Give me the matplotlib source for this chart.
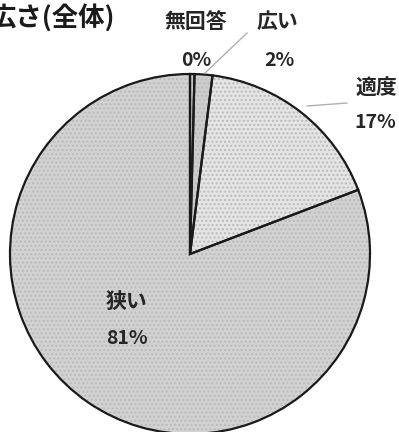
import matplotlib.pyplot as plt

plt.rcParams['font.family'] = ['Noto Sans CJK JP', 'DejaVu Sans']

# 回答の割合(%)
labels = ['無回答', '広い', '適度', '狭い']
values = [0.4, 1.6, 17.2, 80.8]
colors = ['#c8c8c8', '#cdcdcd', '#e4e4e4', '#d2d2d2']

# ラベル位置(画像座標, px)
label_pos = [(196, 21), (277, 21), (376, 88), (127, 301)]
pct_pos = [(196, 61), (279, 61), (375, 123), (127, 338)]

W, H = 399, 432
fig = plt.figure(figsize=(W / 100, H / 100), dpi=100)
ax = fig.add_axes([0, 0, 1, 1])

cx, cy, r = 190, H - 254, 180
# 塗り + 細かい網点
ax.pie(values, colors=colors, startangle=90, counterclock=False,
       center=(cx, cy), radius=r, frame=True,
       wedgeprops=dict(edgecolor='#bababa', linewidth=0, hatch='....'))
# 輪郭線
ax.pie(values, colors=['none'] * 4, startangle=90, counterclock=False,
       center=(cx, cy), radius=r, frame=True,
       wedgeprops=dict(edgecolor='#1a1a1a', linewidth=1.6))
ax.set_xlim(0, W)
ax.set_ylim(0, H)
ax.set_aspect('equal')
ax.axis('off')

# 引き出し線
ax.plot([247, 205], [H - 33, H - 73], color='#b0b0b0', lw=1)
ax.plot([347, 307], [H - 103, H - 106], color='#b0b0b0', lw=1)

for lab, v, (lx, ly), (px, py) in zip(labels, values, label_pos, pct_pos):
    ax.text(lx, H - ly, lab, ha='center', va='center', fontsize=15,
            fontweight='bold', color='#262626')
    ax.text(px, H - py, f'{v:.0f}%', ha='center', va='center', fontsize=14,
            fontweight='bold', color='#262626')

ax.text(115, H - 18, '広さ(全体)', ha='right', va='center', fontsize=19,
        fontweight='bold', color='#1a1a1a')

fig.savefig('out.png', dpi=100)
